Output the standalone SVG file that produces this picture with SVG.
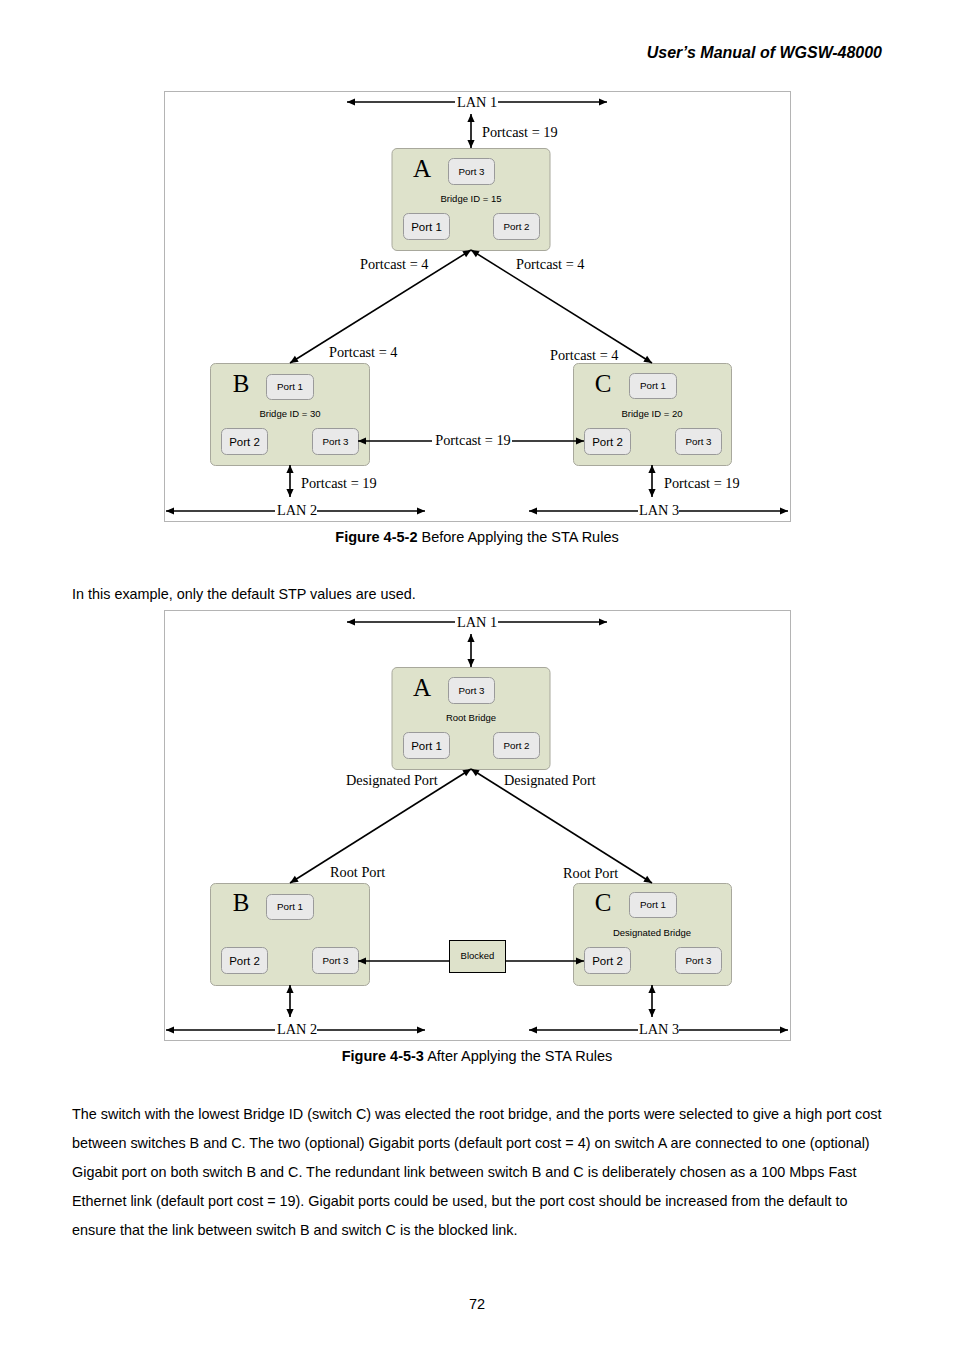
<svg xmlns="http://www.w3.org/2000/svg" width="954" height="1350" viewBox="0 0 954 1350">
<defs>
<marker id="ah" viewBox="0 0 10 10" refX="10" refY="5" markerWidth="9" markerHeight="8" markerUnits="userSpaceOnUse" orient="auto-start-reverse">
<path d="M0,0.5 L10,5 L0,9.5 z" fill="#000"/>
</marker>
<style>
.frame{fill:none;stroke:#b4b4b4;stroke-width:1}
.node{fill:#dee2cb;stroke:#a8a89c;stroke-width:1}
.port{fill:#e9e9e9;stroke:#9a9a9a;stroke-width:1}
.con{stroke:#000;stroke-width:1.6;fill:none}
.ser{font-family:"Liberation Serif",serif;font-size:14.3px;fill:#000}
.big{font-family:"Liberation Serif",serif;font-size:25px;fill:#000}
.pl{font-family:"Liberation Sans",Arial,sans-serif;font-size:11.5px;fill:#000;text-anchor:middle}
.ps{font-family:"Liberation Sans",Arial,sans-serif;font-size:9.8px;fill:#000;text-anchor:middle}
.id{font-family:"Liberation Sans",Arial,sans-serif;font-size:9.5px;fill:#000;text-anchor:middle}
.body{font-family:"Liberation Sans",Arial,sans-serif;font-size:14.4px;fill:#000}
.cap{font-family:"Liberation Sans",Arial,sans-serif;font-size:14.5px;fill:#000;text-anchor:middle}
</style>
</defs>
<rect width="954" height="1350" fill="#fff"/>
<text x="882" y="58" text-anchor="end" font-family="Liberation Sans, Arial, sans-serif" font-size="16" font-weight="bold" font-style="italic">User’s Manual of WGSW-48000</text>

<!-- Figure 1 -->
<rect class="frame" x="164.5" y="91.5" width="626" height="430"/>
<g id="A1">
<rect class="node" x="392" y="148.5" width="158" height="102" rx="5"/>
<text class="big" x="422" y="177" text-anchor="middle">A</text>
<rect class="port" x="448.5" y="158.5" width="46" height="26" rx="5"/>
<text class="ps" x="471.5" y="174.5">Port 3</text>
<text class="id" x="471" y="202">Bridge ID = 15</text>
<rect class="port" x="403.5" y="213.5" width="46" height="26" rx="5"/>
<text class="pl" x="426.5" y="230.5">Port 1</text>
<rect class="port" x="493.5" y="213.5" width="46" height="26" rx="5"/>
<text class="ps" x="516.5" y="229.5">Port 2</text>
</g>
<g id="B1">
<rect class="node" x="210.5" y="363.5" width="159" height="102" rx="5"/>
<text class="big" x="241" y="392" text-anchor="middle">B</text>
<rect class="port" x="266.5" y="374.5" width="47" height="25" rx="5"/>
<text class="ps" x="290" y="390">Port 1</text>
<text class="id" x="290" y="417">Bridge ID = 30</text>
<rect class="port" x="221.5" y="428.5" width="46" height="26" rx="5"/>
<text class="pl" x="244.5" y="445.5">Port 2</text>
<rect class="port" x="312.5" y="428.5" width="46" height="26" rx="5"/>
<text class="ps" x="335.5" y="444.5">Port 3</text>
</g>
<g id="C1">
<rect class="node" x="573.5" y="363.5" width="158" height="102" rx="5"/>
<text class="big" x="603" y="392" text-anchor="middle">C</text>
<rect class="port" x="629.5" y="373.5" width="47" height="25" rx="5"/>
<text class="ps" x="653" y="389">Port 1</text>
<text class="id" x="652" y="417">Bridge ID = 20</text>
<rect class="port" x="584.5" y="428.5" width="46" height="26" rx="5"/>
<text class="pl" x="607.5" y="445.5">Port 2</text>
<rect class="port" x="675.5" y="428.5" width="46" height="26" rx="5"/>
<text class="ps" x="698.5" y="444.5">Port 3</text>
</g>
<g id="connectors1">
<line class="con" x1="455" y1="102" x2="347" y2="102" marker-end="url(#ah)"/>
<line class="con" x1="498" y1="102" x2="607" y2="102" marker-end="url(#ah)"/>
<line class="con" x1="471" y1="114" x2="471" y2="148" marker-start="url(#ah)" marker-end="url(#ah)"/>
<line class="con" x1="290" y1="363" x2="471" y2="250" marker-start="url(#ah)" marker-end="url(#ah)"/>
<line class="con" x1="652" y1="363" x2="471" y2="250" marker-start="url(#ah)" marker-end="url(#ah)"/>
<line class="con" x1="432" y1="441" x2="358" y2="441" marker-end="url(#ah)"/>
<line class="con" x1="512" y1="441" x2="584" y2="441" marker-end="url(#ah)"/>
<line class="con" x1="290" y1="465" x2="290" y2="497" marker-start="url(#ah)" marker-end="url(#ah)"/>
<line class="con" x1="652" y1="465" x2="652" y2="497" marker-start="url(#ah)" marker-end="url(#ah)"/>
<line class="con" x1="275" y1="511" x2="166" y2="511" marker-end="url(#ah)"/>
<line class="con" x1="317" y1="511" x2="425" y2="511" marker-end="url(#ah)"/>
<line class="con" x1="638" y1="511" x2="529" y2="511" marker-end="url(#ah)"/>
<line class="con" x1="679" y1="511" x2="788" y2="511" marker-end="url(#ah)"/>
<text class="ser" x="477" y="107" text-anchor="middle">LAN 1</text>
<text class="ser" x="482" y="137">Portcast = 19</text>
<text class="ser" x="360" y="269">Portcast = 4</text>
<text class="ser" x="516" y="269">Portcast = 4</text>
<text class="ser" x="329" y="357">Portcast = 4</text>
<text class="ser" x="550" y="360">Portcast = 4</text>
<text class="ser" x="473" y="445" text-anchor="middle">Portcast = 19</text>
<text class="ser" x="301" y="488">Portcast = 19</text>
<text class="ser" x="664" y="488">Portcast = 19</text>
<text class="ser" x="297" y="515" text-anchor="middle">LAN 2</text>
<text class="ser" x="659" y="515" text-anchor="middle">LAN 3</text>
</g>
<text class="cap" x="477" y="542"><tspan font-weight="bold">Figure 4-5-2</tspan> Before Applying the STA Rules</text>

<text class="body" x="72" y="599">In this example, only the default STP values are used.</text>

<!-- Figure 2 -->
<rect class="frame" x="164.5" y="610.5" width="626" height="430"/>
<g id="Blocked">
<rect x="449.5" y="940.5" width="56" height="32" fill="#dee2cb" stroke="#000" stroke-width="1"/>
<text class="id" x="477.5" y="959">Blocked</text>
</g>
<g id="A2">
<rect class="node" x="392" y="667.5" width="158" height="102" rx="5"/>
<text class="big" x="422" y="696" text-anchor="middle">A</text>
<rect class="port" x="448.5" y="677.5" width="46" height="26" rx="5"/>
<text class="ps" x="471.5" y="693.5">Port 3</text>
<text class="id" x="471" y="721">Root Bridge</text>
<rect class="port" x="403.5" y="732.5" width="46" height="26" rx="5"/>
<text class="pl" x="426.5" y="749.5">Port 1</text>
<rect class="port" x="493.5" y="732.5" width="46" height="26" rx="5"/>
<text class="ps" x="516.5" y="748.5">Port 2</text>
</g>
<g id="B2">
<rect class="node" x="210.5" y="883.5" width="159" height="102" rx="5"/>
<text class="big" x="241" y="911" text-anchor="middle">B</text>
<rect class="port" x="266.5" y="894.5" width="47" height="25" rx="5"/>
<text class="ps" x="290" y="910">Port 1</text>
<rect class="port" x="221.5" y="947.5" width="46" height="26" rx="5"/>
<text class="pl" x="244.5" y="964.5">Port 2</text>
<rect class="port" x="312.5" y="947.5" width="46" height="26" rx="5"/>
<text class="ps" x="335.5" y="963.5">Port 3</text>
</g>
<g id="C2">
<rect class="node" x="573.5" y="883.5" width="158" height="102" rx="5"/>
<text class="big" x="603" y="911" text-anchor="middle">C</text>
<rect class="port" x="629.5" y="892.5" width="47" height="25" rx="5"/>
<text class="ps" x="653" y="908">Port 1</text>
<text class="id" x="652" y="936">Designated Bridge</text>
<rect class="port" x="584.5" y="947.5" width="46" height="26" rx="5"/>
<text class="pl" x="607.5" y="964.5">Port 2</text>
<rect class="port" x="675.5" y="947.5" width="46" height="26" rx="5"/>
<text class="ps" x="698.5" y="963.5">Port 3</text>
</g>
<g id="connectors2">
<line class="con" x1="455" y1="622" x2="347" y2="622" marker-end="url(#ah)"/>
<line class="con" x1="498" y1="622" x2="607" y2="622" marker-end="url(#ah)"/>
<line class="con" x1="471" y1="634" x2="471" y2="667" marker-start="url(#ah)" marker-end="url(#ah)"/>
<line class="con" x1="290" y1="883" x2="471" y2="769" marker-start="url(#ah)" marker-end="url(#ah)"/>
<line class="con" x1="652" y1="883" x2="471" y2="769" marker-start="url(#ah)" marker-end="url(#ah)"/>
<line class="con" x1="449" y1="961" x2="358" y2="961" marker-end="url(#ah)"/>
<line class="con" x1="505" y1="961" x2="584" y2="961" marker-end="url(#ah)"/>
<line class="con" x1="290" y1="985" x2="290" y2="1017" marker-start="url(#ah)" marker-end="url(#ah)"/>
<line class="con" x1="652" y1="985" x2="652" y2="1017" marker-start="url(#ah)" marker-end="url(#ah)"/>
<line class="con" x1="275" y1="1030" x2="166" y2="1030" marker-end="url(#ah)"/>
<line class="con" x1="317" y1="1030" x2="425" y2="1030" marker-end="url(#ah)"/>
<line class="con" x1="638" y1="1030" x2="529" y2="1030" marker-end="url(#ah)"/>
<line class="con" x1="679" y1="1030" x2="788" y2="1030" marker-end="url(#ah)"/>
<text class="ser" x="477" y="627" text-anchor="middle">LAN 1</text>
<text class="ser" x="346" y="785">Designated Port</text>
<text class="ser" x="504" y="785">Designated Port</text>
<text class="ser" x="330" y="877">Root Port</text>
<text class="ser" x="563" y="878">Root Port</text>
<text class="ser" x="297" y="1034" text-anchor="middle">LAN 2</text>
<text class="ser" x="659" y="1034" text-anchor="middle">LAN 3</text>
</g>
<text class="cap" x="477" y="1061"><tspan font-weight="bold">Figure 4-5-3</tspan> After Applying the STA Rules</text>

<text class="body" x="72" y="1119">The switch with the lowest Bridge ID (switch C) was elected the root bridge, and the ports were selected to give a high port cost</text>
<text class="body" x="72" y="1148">between switches B and C. The two (optional) Gigabit ports (default port cost = 4) on switch A are connected to one (optional)</text>
<text class="body" x="72" y="1177">Gigabit port on both switch B and C. The redundant link between switch B and C is deliberately chosen as a 100 Mbps Fast</text>
<text class="body" x="72" y="1206">Ethernet link (default port cost = 19). Gigabit ports could be used, but the port cost should be increased from the default to</text>
<text class="body" x="72" y="1235">ensure that the link between switch B and switch C is the blocked link.</text>
<text class="cap" x="477" y="1309">72</text>
</svg>
